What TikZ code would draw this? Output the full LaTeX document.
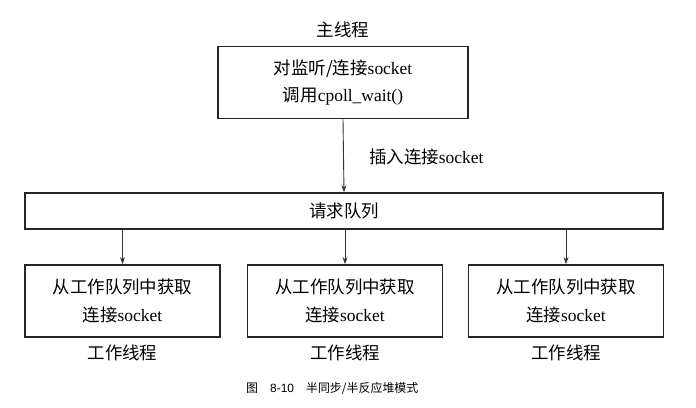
\documentclass[tikz,border=0pt]{standalone}
\usepackage{fontspec}
\setmainfont{Liberation Serif}
\newfontfamily\cjk{Noto Sans CJK SC}
\newfontfamily\capfont{Liberation Sans}
\usetikzlibrary{arrows.meta}
\begin{document}
\begin{tikzpicture}[x=1bp,y=-1bp,
  box/.style={draw=black!85, line width=1.8pt, align=center, inner sep=0pt,
              font=\fontsize{17.5}{28}\selectfont},
  worker/.style={box, minimum width=195bp, minimum height=72bp},
  lbl/.style={font=\fontsize{17.5}{20}\selectfont, inner sep=0pt},
  link/.style={draw=black!80, line width=0.9pt, -{Stealth[length=7pt,width=5pt]}}
]
\useasboundingbox (0,0) rectangle (696,407);

% main thread
\node[box, minimum width=250bp, minimum height=72bp] (main) at (343,82.5)
  {{\cjk 对监听/连接}socket\\{\cjk 调用}cpoll\_wait()};
\node[lbl] (mainlbl) at (343,30) {\cjk 主线程};

% request queue
\node[box, line width=1.6pt, minimum width=638bp, minimum height=36bp] (queue) at (344,211) {\cjk 请求队列};
\draw[link] (main.south) -- (queue.north);
\node[lbl, anchor=west] (ins) at (369,157) {{\cjk 插入连接}socket};

% worker threads
\foreach \i/\x in {1/122.5, 2/345, 3/566} {
  \node[worker] (w\i) at (\x,301) {{\cjk 从工作队列中获取}\\{\cjk 连接}socket};
  \node[lbl] (wl\i) at (\x,353) {\cjk 工作线程};
  \draw[link] (queue.south -| w\i.north) -- (w\i.north);
}

% caption
\node[font=\fontsize{12}{14}\selectfont, anchor=west, inner sep=0pt] (cap) at (246,388)
  {{\cjk 图}\hspace{12bp}{\capfont 8-10}\hspace{12bp}{\cjk 半同步/半反应堆模式}};
\end{tikzpicture}
\end{document}
